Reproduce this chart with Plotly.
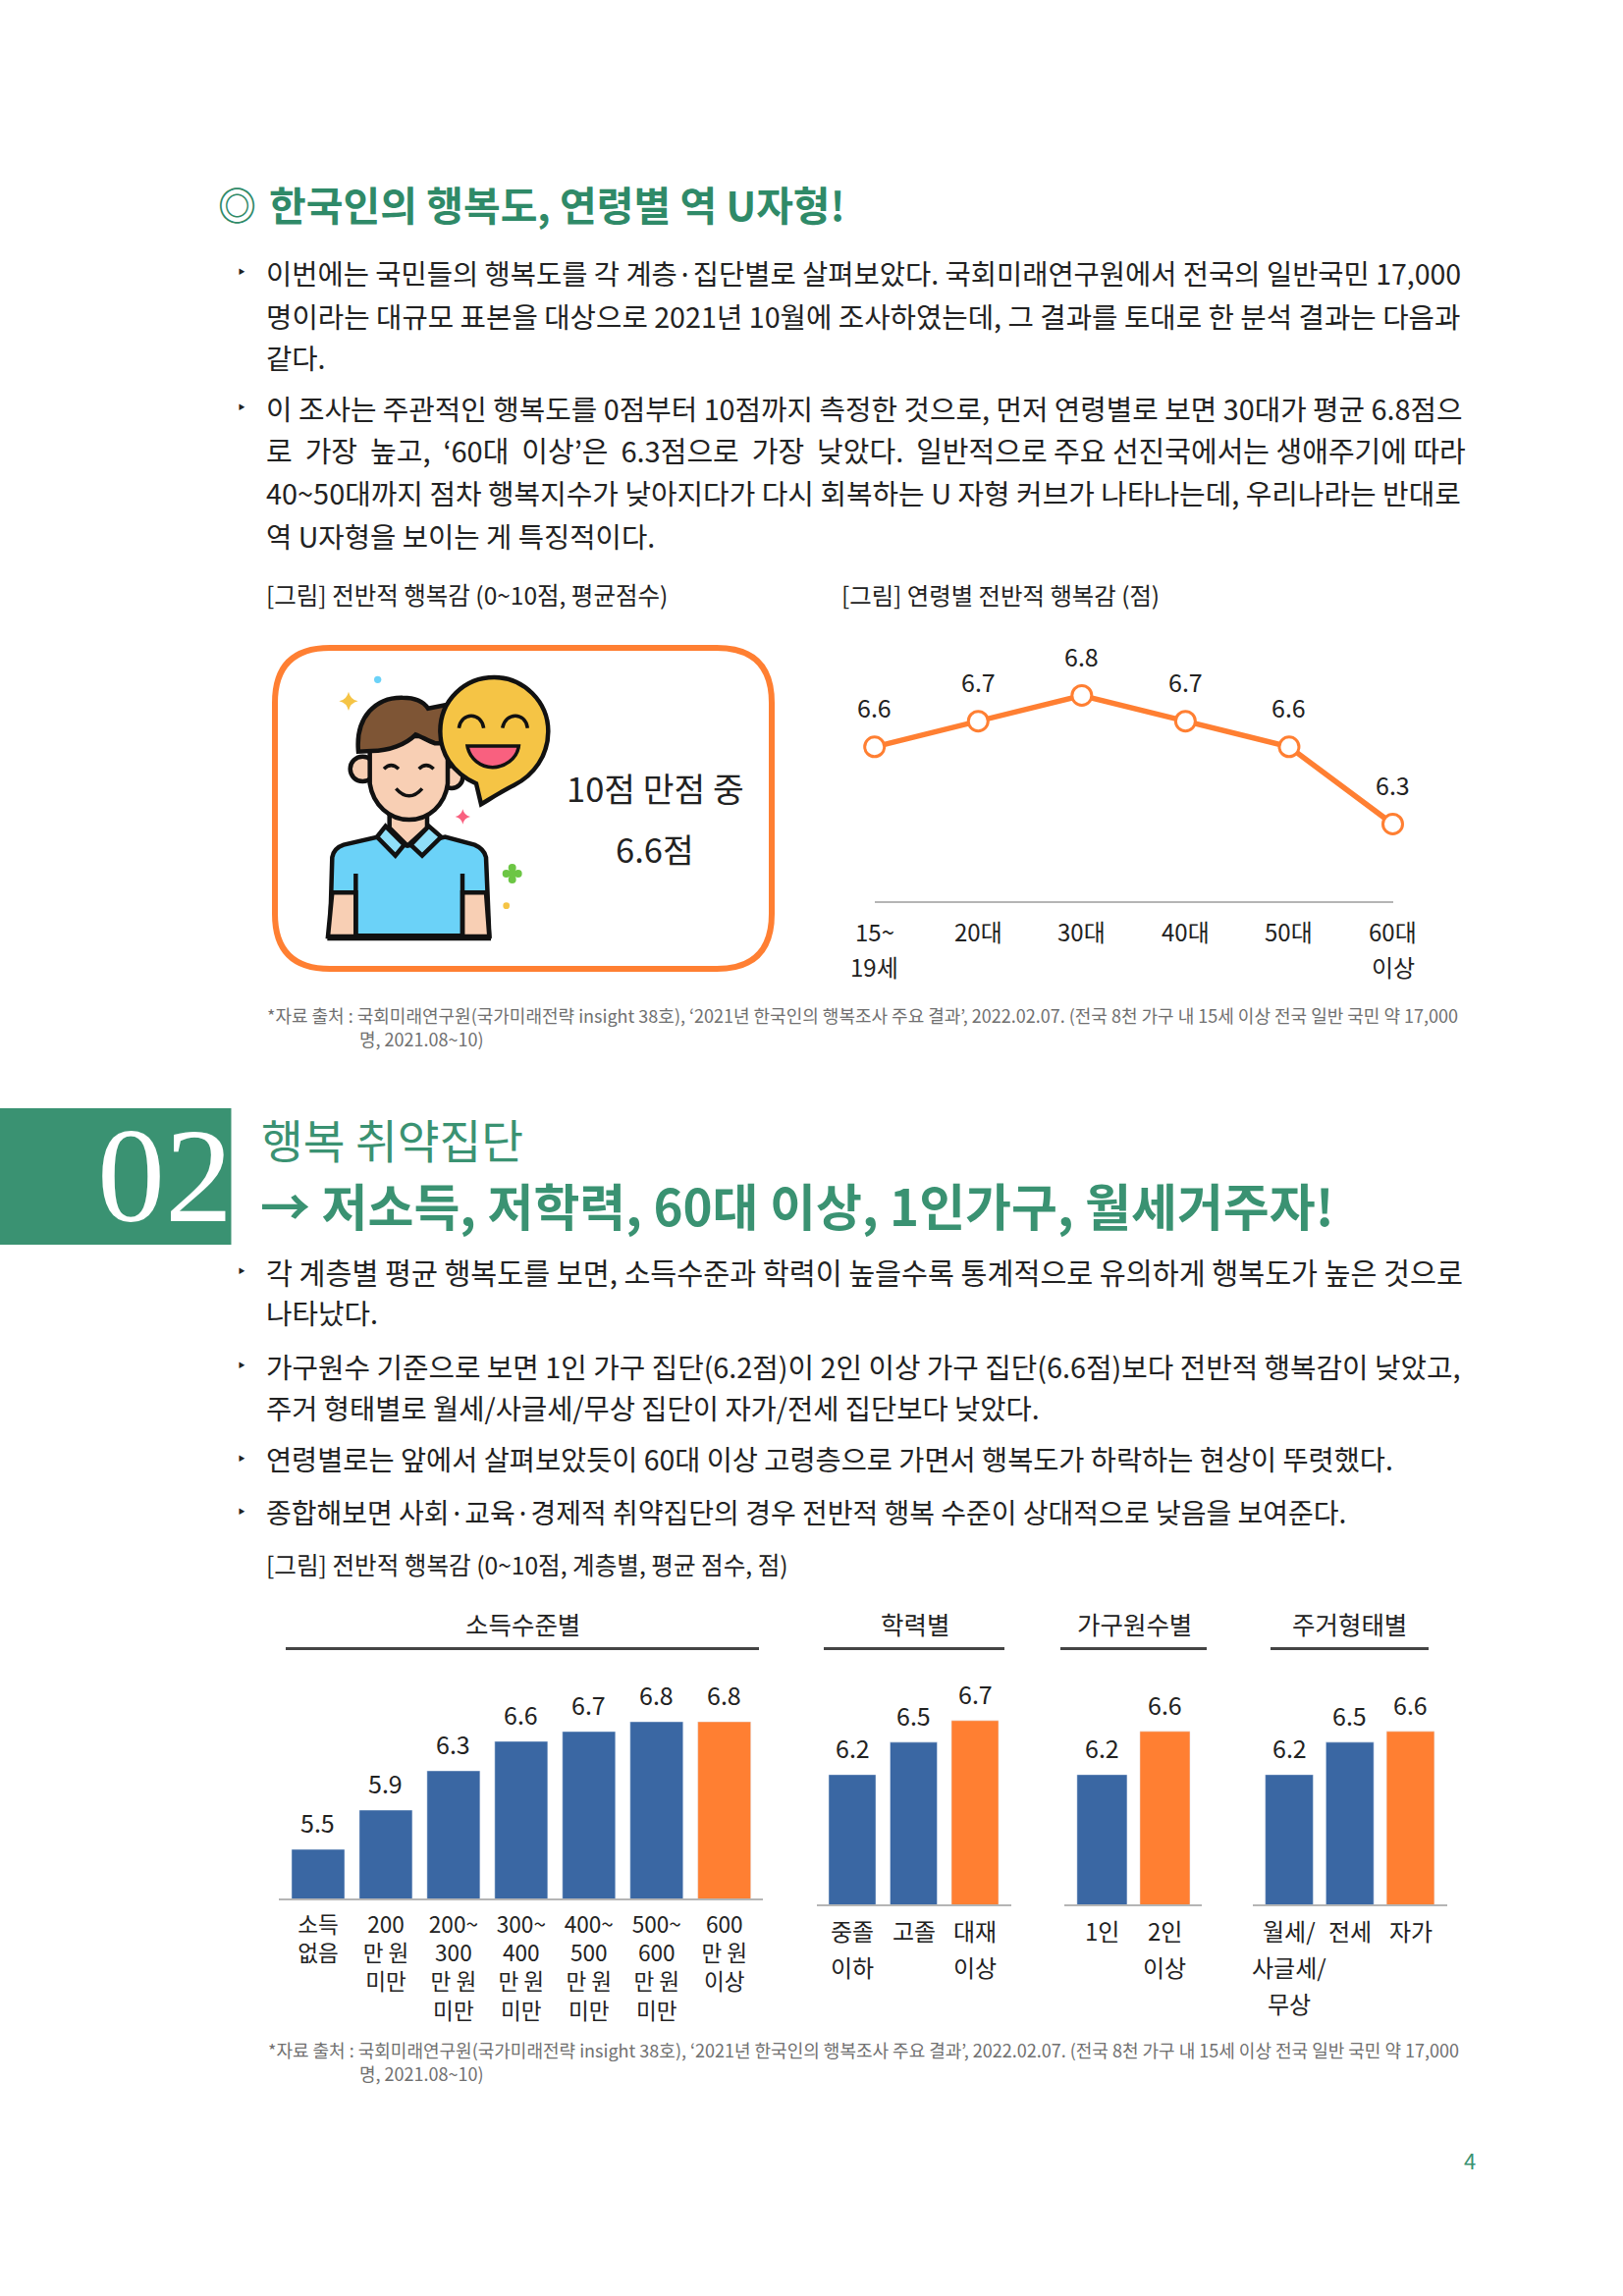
import re
import plotly.graph_objects as go

W, H = 1653, 2339
FONT = "Noto Sans CJK KR"
GREEN = "#3A9272"
TITLE_GREEN = "#2F8A68"
BLUE = "#3A67A3"
ORANGE = "#FF7F32"
INK = "#222222"
NOTE = "#707070"
SKIN = "#F8CFB4"
SKY = "#6BD2F8"
YELLOW = "#F5C445"
PINK = "#F9607F"
BLACK = "#111111"

# chart data
age_labels = ["15~<br>19세", "20대", "30대", "40대", "50대", "60대<br>이상"]
age_scores = [6.6, 6.7, 6.8, 6.7, 6.6, 6.3]

income_labels = ["소득<br>없음", "200<br>만 원<br>미만", "200~<br>300<br>만 원<br>미만", "300~<br>400<br>만 원<br>미만",
                 "400~<br>500<br>만 원<br>미만", "500~<br>600<br>만 원<br>미만", "600<br>만 원<br>이상"]
income_scores = [5.5, 5.9, 6.3, 6.6, 6.7, 6.8, 6.8]

edu_labels = ["중졸<br>이하", "고졸", "대재<br>이상"]
edu_scores = [6.2, 6.5, 6.7]

household_labels = ["1인", "2인<br>이상"]
household_scores = [6.2, 6.6]

housing_labels = ["월세/<br>사글세/<br>무상", "전세", "자가"]
housing_scores = [6.2, 6.5, 6.6]

# page text, line by line
body_lines = [
    "이번에는 국민들의 행복도를 각 계층·집단별로 살펴보았다. 국회미래연구원에서 전국의 일반국민 17,000",
    "명이라는 대규모 표본을 대상으로 2021년 10월에 조사하였는데, 그 결과를 토대로 한 분석 결과는 다음과",
    "같다.",
    "이 조사는 주관적인 행복도를 0점부터 10점까지 측정한 것으로, 먼저 연령별로 보면 30대가 평균 6.8점으",
    "로\u00a0 가장\u00a0 높고,\u00a0 ‘60대\u00a0 이상’은\u00a0 6.3점으로\u00a0 가장\u00a0 낮았다.\u00a0 일반적으로 주요 선진국에서는 생애주기에 따라",
    "40~50대까지 점차 행복지수가 낮아지다가 다시 회복하는 U 자형 커브가 나타나는데, 우리나라는 반대로",
    "역 U자형을 보이는 게 특징적이다.",
    "각 계층별 평균 행복도를 보면, 소득수준과 학력이 높을수록 통계적으로 유의하게 행복도가 높은 것으로",
    "나타났다.",
    "가구원수 기준으로 보면 1인 가구 집단(6.2점)이 2인 이상 가구 집단(6.6점)보다 전반적 행복감이 낮았고,",
    "주거 형태별로 월세/사글세/무상 집단이 자가/전세 집단보다 낮았다.",
    "연령별로는 앞에서 살펴보았듯이 60대 이상 고령층으로 가면서 행복도가 하락하는 현상이 뚜렷했다.",
    "종합해보면 사회·교육·경제적 취약집단의 경우 전반적 행복 수준이 상대적으로 낮음을 보여준다.",
]
# where each body line sits and the size that makes it fill the same width
body_rows = [(278, 28.5), (321, 28.7), (363, 28.6), (415, 28.8), (458, 29), (501, 28.9), (545, 28.6),
             (1295, 29.3), (1336, 28.8), (1391, 28.8), (1433, 28.5), (1486, 28.4), (1540, 28.0)]
bullet_rows = [275, 413, 1293, 1389, 1484, 1538]
note_1 = "*자료 출처 : 국회미래연구원(국가미래전략 insight 38호), ‘2021년 한국인의 행복조사 주요 결과’, 2022.02.07. (전국 8천 가구 내 15세 이상 전국 일반 국민 약 17,000"
note_2 = "명, 2021.08~10)"


def px(x):
    return x / W


def py(y):
    return 1 - y / H


def ydom(top, bottom):
    return [1 - bottom / H, 1 - top / H]


fig = go.Figure()


def label(x, y, text, size, color=INK, anchor="left", bold=False, family=FONT):
    fig.add_annotation(x=px(x), y=py(y), xref="paper", yref="paper", text=text, showarrow=False,
                       xanchor=anchor, yanchor="middle", borderpad=0,
                       font=dict(family=family, size=size, color=color, weight=700 if bold else 400))


def stack_labels(axis, labels, y_first, spacing, size):
    # the reference spaces these wider than plotly's tick line height
    for cat in labels:
        for i, part in enumerate(cat.split("<br>")):
            fig.add_annotation(x=cat, xref=axis, y=py(y_first + i * spacing), yref="paper", text=part,
                               showarrow=False, xanchor="center", yanchor="middle", borderpad=0,
                               font=dict(family=FONT, size=size, color=INK))


def value_labels(axis, yaxis, labels, values, lift, size):
    for cat, v in zip(labels, values):
        fig.add_annotation(x=cat, y=v, xref=axis, yref=yaxis, yshift=lift, text=f"{v:.1f}", showarrow=False,
                           xanchor="center", yanchor="middle", borderpad=0,
                           font=dict(family=FONT, size=size, color=INK))


# line chart
fig.add_trace(go.Scatter(x=age_labels, y=age_scores, xaxis="x", yaxis="y", mode="lines+markers",
                         line=dict(color=ORANGE, width=5.5),
                         marker=dict(size=20, color="white", line=dict(color=ORANGE, width=3)),
                         cliponaxis=False, showlegend=False))
value_labels("x", "y", age_labels, age_scores, 40.5, 25)
stack_labels("x", age_labels, 948.5, 36, 24)

# bar panels
panels = [
    ("x2", "y2", income_labels, income_scores, 0.783),
    ("x3", "y3", edu_labels, edu_scores, 0.768),
    ("x4", "y4", household_labels, household_scores, 0.797),
    ("x5", "y5", housing_labels, housing_scores, 0.79),
]
for xa, ya, cats, vals, bar_w in panels:
    colors = [BLUE] * (len(cats) - 1) + [ORANGE]
    fig.add_trace(go.Bar(x=cats, y=vals, xaxis=xa, yaxis=ya, width=bar_w, marker_color=colors, showlegend=False))

value_labels("x2", "y2", income_labels, income_scores, 28, 25)
value_labels("x3", "y3", edu_labels, edu_scores, 27.5, 25)
value_labels("x4", "y4", household_labels, household_scores, 27.5, 25)
value_labels("x5", "y5", housing_labels, housing_scores, 27.5, 25)
stack_labels("x3", edu_labels, 1966.5, 37, 24)
stack_labels("x4", household_labels, 1966.5, 37, 24)
stack_labels("x5", housing_labels, 1966.5, 37, 24)


def axis_x(a, b, rng):
    return dict(domain=[a / W, b / W], range=rng, type="category", showgrid=False, zeroline=False, ticks="",
                showticklabels=False, showline=True, linecolor="#B5B5B5", linewidth=2, fixedrange=True)


def axis_y(top, bottom, rng, anchor):
    return dict(domain=ydom(top, bottom), range=rng, visible=False, fixedrange=True, anchor=anchor)


shapes = []


def path_shape(d, fill=None, line=None, width=0):
    # icon outlines are written in the pixels of a 3x crop of the 260x300 icon box
    out, xy = [], 0
    for tok in re.findall(r"[A-Z]|-?\d+\.?\d*", d):
        if tok.isalpha():
            out.append(tok)
        elif xy == 0:
            out.append(f"{px(310 + float(tok) / 3):.5f},")
            xy = 1
        else:
            out.append(f"{py(670 + float(tok) / 3):.5f}")
            xy = 0
    shapes.append(dict(type="path", xref="paper", yref="paper", path=" ".join(out),
                       fillcolor=fill or "rgba(0,0,0,0)", line=dict(color=line or "rgba(0,0,0,0)", width=width),
                       layer="above"))


def dot(cx, cy, r, fill, line=None, width=0):
    shapes.append(dict(type="circle", xref="paper", yref="paper",
                       x0=px(310 + (cx - r) / 3), x1=px(310 + (cx + r) / 3),
                       y0=py(670 + (cy + r) / 3), y1=py(670 + (cy - r) / 3),
                       fillcolor=fill, line=dict(color=line or "rgba(0,0,0,0)", width=width), layer="above"))


def star(cx, cy, r, fill):
    k = r * 0.18
    path_shape(f"M{cx},{cy-r} Q{cx+k},{cy-k} {cx+r},{cy} Q{cx+k},{cy+k} {cx},{cy+r} "
               f"Q{cx-k},{cy+k} {cx-r},{cy} Q{cx-k},{cy-k} {cx},{cy-r} Z", fill=fill)


def page_rect(x0, y0, x1, y1, fill):
    shapes.append(dict(type="rect", xref="paper", yref="paper", x0=px(x0), x1=px(x1), y0=py(y1), y1=py(y0),
                       fillcolor=fill, line=dict(width=0), layer="below"))


# orange rounded frame
l, r, t, b, c = 280, 786, 660, 987, 56
shapes.append(dict(type="path", xref="paper", yref="paper", line=dict(color=ORANGE, width=6), fillcolor="white",
                   layer="below",
                   path=f"M{px(l+c):.5f},{py(t):.5f} L{px(r-c):.5f},{py(t):.5f} Q{px(r):.5f},{py(t):.5f} {px(r):.5f},{py(t+c):.5f} "
                        f"L{px(r):.5f},{py(b-c):.5f} Q{px(r):.5f},{py(b):.5f} {px(r-c):.5f},{py(b):.5f} "
                        f"L{px(l+c):.5f},{py(b):.5f} Q{px(l):.5f},{py(b):.5f} {px(l):.5f},{py(b-c):.5f} "
                        f"L{px(l):.5f},{py(t+c):.5f} Q{px(l):.5f},{py(t):.5f} {px(l+c):.5f},{py(t):.5f} Z"))

# section banner and header rules
page_rect(0, 1129, 235.5, 1268, GREEN)
for x0, x1 in [(291, 773), (839, 1023), (1080, 1229), (1294, 1455)]:
    page_rect(x0, 1678, x1, 1681, "#444444")

# person and speech bubble icon
dot(178, 340, 38, SKIN, BLACK, 4.5)
dot(450, 365, 34, SKIN, BLACK, 4.5)
path_shape("M260,470 L260,520 L315,575 L375,520 L375,470 Z", SKIN, BLACK, 4.5)
path_shape("M78,850 L85,610 Q90,582 120,572 L225,548 L315,575 L430,548 L520,572 Q550,585 555,610 L565,850 Z", SKY, BLACK, 4.5)
path_shape("M85,718 L157,718 L157,852 L72,852 Z", SKIN, BLACK, 4.5)
path_shape("M483,718 L555,718 L565,852 L483,852 Z", SKIN, BLACK, 4.5)
path_shape("M157,660 L157,850", None, BLACK, 4.5)
path_shape("M483,660 L483,850", None, BLACK, 4.5)
path_shape("M70,857 L570,857", None, BLACK, 5)
path_shape("M248,515 L305,572 L278,605 L222,548 Z", "#8FDFF9", BLACK, 4.5)
path_shape("M380,515 L325,572 L360,605 L418,548 Z", "#8FDFF9", BLACK, 4.5)
path_shape("M200,280 L200,385 C210,450 260,495 320,495 C380,495 430,450 438,385 L438,240 L200,240 Z", SKIN, BLACK, 4.5)
path_shape("M165,287 C155,180 220,120 300,122 C340,122 365,135 378,155 L430,145 L425,262 L400,262 "
           "C380,255 355,240 340,235 C310,265 260,285 205,285 Z", "#7E5535", BLACK, 4.5)
path_shape("M243,340 Q265,318 288,340", None, BLACK, 3.5)
path_shape("M350,340 Q372,318 395,340", None, BLACK, 3.5)
path_shape("M280,400 Q320,445 360,400", None, BLACK, 3.5)
path_shape("M540,448 L525,385 C450,350 415,290 415,225 C415,130 490,60 580,60 C670,60 745,135 745,225 "
           "C745,300 700,360 640,390 C600,410 570,430 540,448 Z", YELLOW, BLACK, 4.5)
path_shape("M472,215 C480,165 540,165 548,215", None, BLACK, 3.5)
path_shape("M605,215 C615,165 675,165 682,215", None, BLACK, 3.5)
path_shape("M498,270 L655,270 C650,310 610,335 575,335 C540,335 505,310 498,270 Z", PINK, BLACK, 3.5)
dot(224, 67, 11, SKY)
star(135, 133, 29, YELLOW)
star(484, 486, 23, PINK)
for gx, gy in [(635, 642), (635, 678), (617, 660), (653, 660), (635, 660)]:
    dot(gx, gy, 12, "#6CC644")
dot(617, 758, 10, YELLOW)

# page text
label(241, 207, "◎", 39, TITLE_GREEN, anchor="center", bold=True)
label(272.5, 207, "한국인의 행복도, 연령별 역 U자형!", 41, TITLE_GREEN, bold=True)
for (y, size), line in zip(body_rows, body_lines):
    label(269.5, y, line, size)
for y in bullet_rows:
    label(246, y, "‣", 22, "#222222", anchor="center")
label(269.5, 605.5, "[그림] 전반적 행복감 (0~10점, 평균점수)", 24.5)
label(856, 605.5, "[그림] 연령별 전반적 행복감 (점)", 24.4)
label(667, 802, "10점 만점 중", 34.5, anchor="center")
label(667, 864, "6.6점", 34.5, anchor="center")
label(271, 1034, note_1, 18, NOTE)
label(365, 1058, note_2, 18, NOTE)
label(265, 1160, "행복 취약집단", 46.5, GREEN)
label(264, 1227, "→ 저소득, 저학력, 60대 이상, 1인가구, 월세거주자!", 51, GREEN, bold=True)
label(168, 1197, "02", 138, "white", anchor="center", family="Liberation Serif")
label(269.5, 1593, "[그림] 전반적 행복감 (0~10점, 계층별, 평균 점수, 점)", 24.6)
label(532, 1653.5, "소득수준별", 25.5, anchor="center")
label(932, 1653.5, "학력별", 25.5, anchor="center")
label(1155, 1653.5, "가구원수별", 25.5, anchor="center")
label(1374, 1653.5, "주거형태별", 25.5, anchor="center")
label(272, 2088, note_1, 18, NOTE)
label(365, 2112, note_2, 18, NOTE)
label(1497, 2200, "4", 22, GREEN, anchor="center")

income_axis = axis_x(284, 777, [-0.58, 6.57])
income_axis.update(anchor="y2", showticklabels=True, tickangle=0, ticks="outside", ticklen=5.5,
                   tickcolor="rgba(0,0,0,0)", tickfont=dict(family=FONT, size=22.6, color=INK))

fig.update_layout(
    width=W, height=H, margin=dict(l=0, r=0, t=0, b=0), paper_bgcolor="white", plot_bgcolor="rgba(0,0,0,0)",
    showlegend=False, barmode="overlay", shapes=shapes, font=dict(family=FONT),
    xaxis=axis_x(890.7, 1418.5, [0, 5]),
    yaxis=axis_y(660, 918, [6, 6.985], "x"),
    xaxis2=income_axis,
    yaxis2=axis_y(1700, 1934, [5, 7.34], "x2"),
    xaxis3=dict(axis_x(832, 1030, [-0.576, 2.592]), anchor="y3"),
    yaxis3=axis_y(1700, 1940, [5, 7.18], "x3"),
    xaxis4=dict(axis_x(1084, 1224, [-0.6, 1.586]), anchor="y4"),
    yaxis4=axis_y(1700, 1940, [5, 7.18], "x4"),
    xaxis5=dict(axis_x(1276, 1474, [-0.6, 2.607]), anchor="y5"),
    yaxis5=axis_y(1700, 1940, [5, 7.18], "x5"),
)

fig.write_html("out.html", config=dict(displayModeBar=False), post_script="document.body.style.margin='0';")
